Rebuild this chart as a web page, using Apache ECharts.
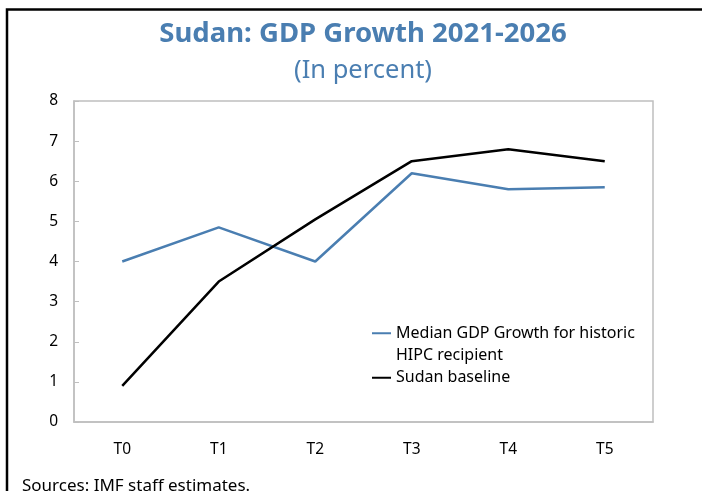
<!DOCTYPE html>
<html>
<head>
<meta charset="utf-8">
<style>
  html, body { margin: 0; padding: 0; background: #fff; }
  #chart { width: 702px; height: 491px; }
</style>
<script src="https://cdn.jsdelivr.net/npm/echarts@6/dist/echarts.min.js"></script>
</head>
<body>
<div id="chart"></div>
<script>
// Horizon labels (T0 = decision year)
const periods = ['T0', 'T1', 'T2', 'T3', 'T4', 'T5'];
// Median real GDP growth of past HIPC recipients, percent
const medianHipc = [4.0, 4.85, 4.0, 6.2, 5.8, 5.85];
// Sudan baseline projection, percent
const sudanBaseline = [0.9, 3.5, 5.05, 6.5, 6.8, 6.5];
// Value-axis ticks
const yTicks = [0, 1, 2, 3, 4, 5, 6, 7, 8];

const medianName = 'Median GDP Growth for historic';
const medianNameCont = 'HIPC recipient';
const sudanName = 'Sudan baseline';
const blue = '#4A7EB1';
const font = 'Noto Sans';
const gridLine = '#BFBFBF';

const chart = echarts.init(document.getElementById('chart'), null, { renderer: 'canvas' });

chart.setOption({
  animation: false,
  backgroundColor: '#fff',
  textStyle: { fontFamily: font },
  title: [
    {
      text: 'Sudan: GDP Growth 2021-2026',
      left: 358, top: 15, textAlign: 'center',
      textStyle: { fontFamily: font, fontSize: 27.5, fontWeight: 'bold', color: blue }
    },
    {
      text: '(In percent)',
      left: 358, top: 53, textAlign: 'center',
      textStyle: { fontFamily: font, fontSize: 25.5, fontWeight: 'normal', color: blue }
    }
  ],
  grid: {
    left: 74, right: 49, top: 101, bottom: 69,
    show: true, borderColor: gridLine, borderWidth: 1.5, backgroundColor: 'transparent'
  },
  legend: {
    orient: 'vertical',
    left: 372, top: 322, padding: 0,
    itemWidth: 19, itemHeight: 2, itemGap: 22,
    icon: 'rect',
    selectedMode: false,
    textStyle: { fontFamily: font, fontSize: 16, color: '#000', lineHeight: 22.5 },
    data: [medianName, sudanName]
  },
  xAxis: {
    type: 'category',
    data: periods,
    boundaryGap: true,
    axisLine: { lineStyle: { color: gridLine, width: 1.5 } },
    axisTick: { inside: true, length: 5, lineStyle: { color: gridLine, width: 1 } },
    axisLabel: { color: '#000', fontSize: 15.5, fontFamily: font, margin: 20 },
    splitLine: { show: false }
  },
  yAxis: {
    type: 'value',
    min: yTicks[0], max: yTicks[yTicks.length - 1], interval: 1,
    axisLine: { show: true, lineStyle: { color: gridLine, width: 1.5 } },
    axisTick: { show: true, inside: true, length: 5, lineStyle: { color: gridLine, width: 1 } },
    axisLabel: { color: '#000', fontSize: 15.5, fontFamily: font, margin: 16 },
    splitLine: { show: false }
  },
  series: [
    {
      name: medianName, type: 'line', data: medianHipc,
      symbol: 'none', lineStyle: { color: blue, width: 2.5 }, itemStyle: { color: blue }
    },
    {
      name: sudanName, type: 'line', data: sudanBaseline,
      symbol: 'none', lineStyle: { color: '#000', width: 2.5 }, itemStyle: { color: '#000' }
    }
  ],
  graphic: [
    {
      type: 'polyline', silent: true,
      shape: { points: [[7, 491], [7, 9.5], [702, 9.5]] },
      style: { stroke: '#000', lineWidth: 2.5, fill: null }
    },
    {
      // second line of the first legend entry
      type: 'text', left: 396, top: 347, silent: true,
      style: { text: medianNameCont, fontFamily: font, fontSize: 16, fill: '#000' }
    },
    {
      type: 'text', left: 22, top: 478, silent: true,
      style: { text: 'Sources: IMF staff estimates.', fontFamily: font, fontSize: 17, fill: '#000' }
    }
  ]
});
</script>
</body>
</html>
